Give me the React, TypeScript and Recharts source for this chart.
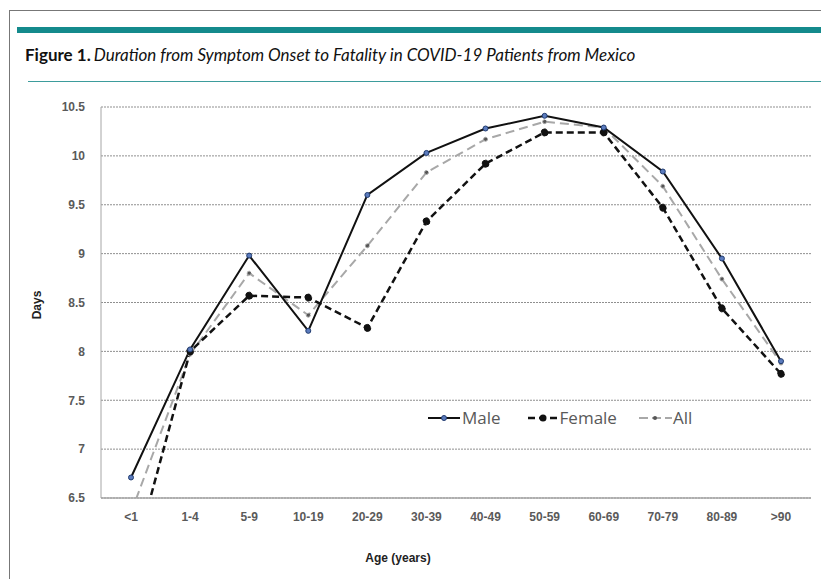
import React from "react";
import { LineChart, Line, XAxis, YAxis, CartesianGrid } from "recharts";

const ageGroups = ["<1", "1-4", "5-9", "10-19", "20-29", "30-39", "40-49", "50-59", "60-69", "70-79", "80-89", ">90"];
const maleDays = [6.71, 8.02, 8.98, 8.21, 9.6, 10.03, 10.28, 10.41, 10.29, 9.84, 8.95, 7.9];
const femaleDays = [5.77, 8.0, 8.57, 8.55, 8.24, 9.33, 9.92, 10.24, 10.24, 9.47, 8.44, 7.77];
const allDays = [6.35, 7.97, 8.8, 8.37, 9.08, 9.83, 10.17, 10.35, 10.29, 9.69, 8.74, 7.88];
const yTicks = [6.5, 7, 7.5, 8, 8.5, 9, 9.5, 10, 10.5];

const data = ageGroups.map((age, i) => ({
  age,
  male: maleDays[i],
  female: femaleDays[i],
  all: allDays[i],
}));

const tickStyle = { fill: "#5a5a5a", fontSize: 12, fontWeight: 700, fontFamily: "Liberation Sans, Arial, sans-serif" };

const LegendBox = () => {
  const label = { fontFamily: "Open Sans, sans-serif", fontSize: 17, color: "#595959", lineHeight: "20px" };
  return (
    <div style={{ display: "flex", alignItems: "center" }}>
      <svg width={34} height={10}>
        <line x1={0} y1={5} x2={32} y2={5} stroke="#111" strokeWidth={2} />
        <circle cx={16} cy={5} r={2.5} fill="#5b7bbd" stroke="#1f3a6e" strokeWidth={1} />
      </svg>
      <span style={label}>Male</span>
      <svg width={32} height={10} style={{ marginLeft: 27 }}>
        <line x1={0} y1={5} x2={31} y2={5} stroke="#111" strokeWidth={2.5} strokeDasharray="7 4" />
        <circle cx={15} cy={5} r={3.5} fill="#111" />
      </svg>
      <span style={label}>Female</span>
      <svg width={34} height={10} style={{ marginLeft: 22 }}>
        <line x1={0} y1={5} x2={33} y2={5} stroke="#a8a8a8" strokeWidth={2} strokeDasharray="9 4" />
        <circle cx={16} cy={5} r={2} fill="#555" />
      </svg>
      <span style={label}>All</span>
    </div>
  );
};

export default function App() {
  return (
    <div style={{ position: "absolute", left: 0, top: 0, width: 821, height: 579, background: "#fff", overflow: "hidden" }}>
      <div style={{ position: "absolute", left: 9, top: 10, width: 830, height: 600, borderLeft: "1.5px solid #777", borderTop: "1.5px solid #777" }} />
      <div style={{ position: "absolute", left: 17, top: 27, width: 810, height: 6, background: "#148a8c" }} />
      <div style={{ position: "absolute", left: 28, top: 81, width: 800, height: 1, background: "#3d9c9c" }} />
      <div style={{ position: "absolute", left: 25, top: 44, whiteSpace: "nowrap", fontFamily: "Lato, sans-serif", fontSize: 17, color: "#111" }}>
        <span style={{ fontWeight: 700 }}>Figure 1.</span>
        <span style={{ fontStyle: "italic", marginLeft: 3 }}>Duration from Symptom Onset to Fatality in COVID-19 Patients from Mexico</span>
      </div>
      <div style={{ position: "absolute", left: 0, top: 0 }}>
        <LineChart width={821} height={579} data={data} margin={{ top: 107, right: 10, bottom: 51, left: 40 }}>
          <CartesianGrid vertical={false} stroke="#8f8f8f" strokeDasharray="2 1" />
          <XAxis
            dataKey="age"
            padding={{ left: 30, right: 30 }}
            height={30}
            tickLine={false}
            axisLine={{ stroke: "#a6a6a6", strokeWidth: 1.5 }}
            tick={tickStyle}
            tickMargin={8}
            interval={0}
          />
          <YAxis
            width={61}
            domain={[6.5, 10.5]}
            ticks={yTicks}
            allowDataOverflow
            tickLine={false}
            axisLine={{ stroke: "#a6a6a6", strokeWidth: 1 }}
            tick={tickStyle}
            tickMargin={10}
          />
          <Line
            dataKey="all"
            stroke="#a8a8a8"
            strokeWidth={2}
            strokeDasharray="9 5"
            dot={{ r: 2, fill: "#555", stroke: "#aaa", strokeWidth: 1 }}
            isAnimationActive={false}
          />
          <Line
            dataKey="female"
            stroke="#111"
            strokeWidth={2.5}
            strokeDasharray="7 4"
            dot={{ r: 3.5, fill: "#111", stroke: "#111", strokeWidth: 1 }}
            isAnimationActive={false}
          />
          <Line
            dataKey="male"
            stroke="#111"
            strokeWidth={2}
            dot={{ r: 2.5, fill: "#5b7bbd", stroke: "#1f3a6e", strokeWidth: 1 }}
            isAnimationActive={false}
          />
        </LineChart>
      </div>
      <div style={{ position: "absolute", left: 428, top: 408 }}>
        <LegendBox />
      </div>
      <div style={{ position: "absolute", left: 37, top: 305, transform: "translate(-50%, -50%) rotate(-90deg)", fontFamily: "Liberation Sans, Arial, sans-serif", fontWeight: 700, fontSize: 12, color: "#222" }}>
        Days
      </div>
      <div style={{ position: "absolute", left: 398, top: 558, transform: "translate(-50%, -50%)", fontFamily: "Liberation Sans, Arial, sans-serif", fontWeight: 700, fontSize: 12, color: "#222", whiteSpace: "nowrap" }}>
        Age (years)
      </div>
    </div>
  );
}
